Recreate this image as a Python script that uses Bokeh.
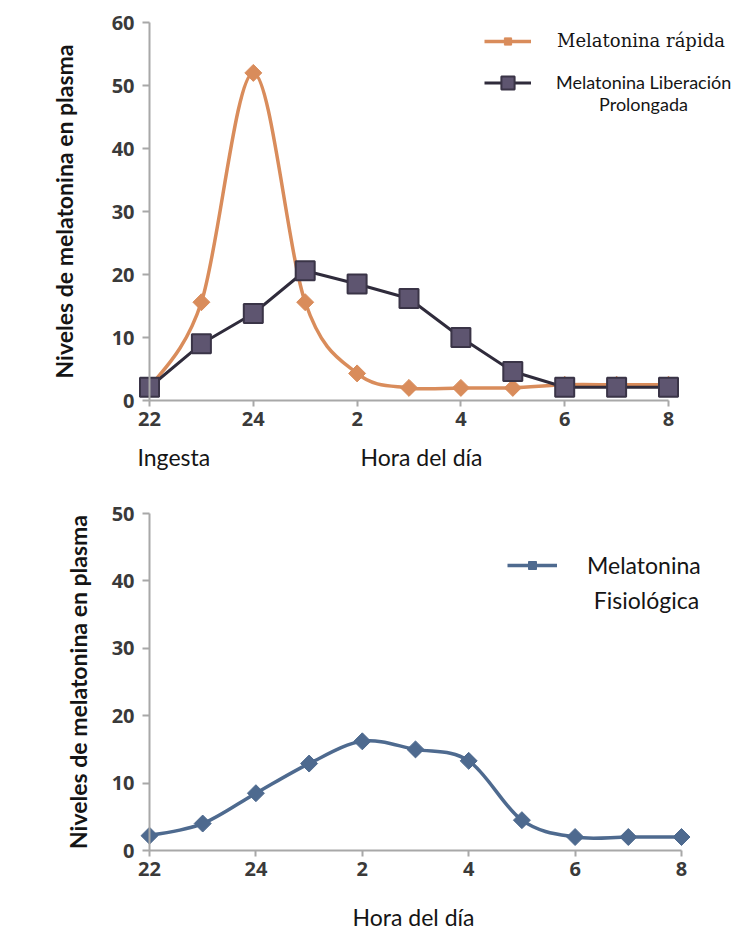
from bokeh.plotting import figure
from bokeh.layouts import column
from bokeh.models import (Range1d, FixedTicker, Legend, LegendItem, Label,
                          LinearAxis, ColumnDataSource)
from bokeh.embed import file_html
from bokeh.resources import INLINE
import math

# ---------------- data ----------------
hours = ["22", "23", "24", "1", "2", "3", "4", "5", "6", "7", "8"]
tick_hours = ["22", "24", "2", "4", "6", "8"]
rapida = [2.0, 15.6, 52.0, 15.6, 4.3, 2.0, 2.0, 2.0, 2.5, 2.5, 2.5]
prolongada = [2.1, 9.0, 13.8, 20.6, 18.5, 16.2, 10.0, 4.6, 2.1, 2.1, 2.1]
fisiologica = [2.2, 4.0, 8.5, 12.9, 16.2, 15.0, 13.3, 4.5, 2.0, 2.0, 2.0]
y_ticks_top = [0, 10, 20, 30, 40, 50, 60]
y_ticks_bottom = [0, 10, 20, 30, 40, 50]

ORANGE = "#D98C5B"
PURPLE_FILL = "#5E5570"
PURPLE_LINE = "#2F2B3B"
BLUE = "#4E6A8F"
AXIS = "#A8A8A8"
TICK_TXT = "#3A3A3A"
TXT = "#151515"

W = 748
xs = list(range(len(hours)))
tick_pos = [hours.index(h) for h in tick_hours]


def smooth_segments(x, y):
    """Excel-like smoothed line: cubic Bezier segments (Catmull-Rom control points)."""
    n = len(x)
    d = dict(x0=[], y0=[], x1=[], y1=[], cx0=[], cy0=[], cx1=[], cy1=[])
    for i in range(n - 1):
        pm = i - 1 if i > 0 else i
        pp = i + 2 if i + 2 < n else i + 1
        d["x0"].append(x[i]); d["y0"].append(y[i])
        d["x1"].append(x[i + 1]); d["y1"].append(y[i + 1])
        d["cx0"].append(x[i] + (x[i + 1] - x[pm]) / 6.0)
        d["cy0"].append(y[i] + (y[i + 1] - y[pm]) / 6.0)
        d["cx1"].append(x[i + 1] - (x[pp] - x[i]) / 6.0)
        d["cy1"].append(y[i + 1] - (y[pp] - y[i]) / 6.0)
    return ColumnDataSource(d)


def base_fig(h, origin_x, unit_x, origin_y, unit_y):
    # the plotting frame covers the whole figure; axes are drawn at data 0
    xr = Range1d(-origin_x / unit_x, (W - origin_x) / unit_x)
    yr = Range1d(-(h - origin_y) / unit_y, origin_y / unit_y)
    p = figure(width=W, height=h, x_range=xr, y_range=yr,
               x_axis_type=None, y_axis_type=None,
               output_backend="svg", toolbar_location=None,
               min_border=0, min_border_left=0, min_border_right=0,
               min_border_top=0, min_border_bottom=0,
               background_fill_color="white", border_fill_color="white")
    p.outline_line_color = None
    return p


def style_axes(p, y_ticks, title_standoff):
    xa = LinearAxis(ticker=FixedTicker(ticks=tick_pos),
                    major_label_overrides={pos: lab for pos, lab in zip(tick_pos, tick_hours)},
                    bounds=(0, len(hours) - 1), fixed_location=0)
    ya = LinearAxis(ticker=FixedTicker(ticks=y_ticks), bounds=(0, y_ticks[-1]),
                    fixed_location=0,
                    axis_label="Niveles de melatonina en plasma")
    for ax in (xa, ya):
        ax.axis_line_color = AXIS
        ax.axis_line_width = 2
        ax.major_tick_line_color = AXIS
        ax.major_tick_line_width = 2
        ax.major_tick_in = 0
        ax.minor_tick_line_color = None
        ax.major_label_text_font = "Open Sans"
        ax.major_label_text_font_style = "bold"
        ax.major_label_text_font_size = "20px"
        ax.major_label_text_color = TICK_TXT
    xa.major_tick_out = 6
    xa.major_label_standoff = 5
    ya.major_tick_out = 7
    ya.major_label_standoff = 8
    ya.axis_label_text_font = "Lato"
    ya.axis_label_text_font_style = "bold"
    ya.axis_label_text_font_size = "23px"
    ya.axis_label_text_color = TXT
    ya.axis_label_standoff = title_standoff
    p.add_layout(xa, "below")
    p.add_layout(ya, "left")


def text_label(p, x, y, txt, size="23px", align="left", font="Lato", x_units="screen", x_offset=0):
    p.add_layout(Label(x=x, y=y, x_units=x_units, y_units="screen", x_offset=x_offset,
                       text=txt, text_font=font, text_font_size=size, text_color=TXT,
                       text_align=align, text_baseline="middle"))


def legend(item, loc, gw, gh, standoff, font, size):
    return Legend(items=[item], location=loc, glyph_width=gw, glyph_height=gh,
                  label_standoff=standoff, padding=0, margin=0, spacing=0,
                  label_text_font=font, label_text_font_size=size,
                  label_text_color=TXT, label_height=10,
                  border_line_alpha=0, background_fill_alpha=0)


# ---------------- top chart ----------------
H1 = 470
p1 = base_fig(H1, 149, 51.9, 400, 6.3)
style_axes(p1, y_ticks_top, 31)

r_line = p1.bezier(x0="x0", y0="y0", x1="x1", y1="y1", cx0="cx0", cy0="cy0",
                   cx1="cx1", cy1="cy1", source=smooth_segments(xs, rapida),
                   line_color=ORANGE, line_width=3.5)
r_pts = p1.scatter(xs, rapida, marker="square", angle=math.pi / 4, size=12,
                   fill_color=ORANGE, line_color=ORANGE, line_width=1)
pr_line = p1.line(xs, prolongada, line_color=PURPLE_LINE, line_width=3)
pr_pts = p1.scatter(xs, prolongada, marker="square", size=19,
                    fill_color=PURPLE_FILL, line_color="#3A3447", line_width=2)

p1.add_layout(legend(LegendItem(label="Melatonina rápida", renderers=[r_line, r_pts]),
                     (484, H1 - 51), 47, 18, 26, "DejaVu Serif", "18px"), "center")
p1.add_layout(legend(LegendItem(label="Melatonina Liberación", renderers=[pr_line, pr_pts]),
                     (484, H1 - 98.5), 47, 33, 25, "Lato", "18px"), "center")
text_label(p1, 643, H1 - 103, "Prolongada", size="18px", align="center")
text_label(p1, 0, H1 - 456, "Ingesta", x_units="data", x_offset=-12)
text_label(p1, 421, H1 - 456, "Hora del día", align="center")

# ---------------- bottom chart ----------------
H2 = 468
TOP2 = 470
p2 = base_fig(H2, 149, 53.2, 850 - TOP2, 6.74)
style_axes(p2, y_ticks_bottom, 17)

f_line = p2.bezier(x0="x0", y0="y0", x1="x1", y1="y1", cx0="cx0", cy0="cy0",
                   cx1="cx1", cy1="cy1", source=smooth_segments(xs, fisiologica),
                   line_color=BLUE, line_width=3.5)
f_pts = p2.scatter(xs, fisiologica, marker="square", angle=math.pi / 4, size=12,
                   fill_color=BLUE, line_color=BLUE, line_width=1)
p2.add_layout(legend(LegendItem(label="Melatonina", renderers=[f_line, f_pts]),
                     (507, H2 - (579 - TOP2)), 50, 20, 30, "Lato", "23px"), "center")
text_label(p2, 646, H2 - (599 - TOP2), "Fisiológica", size="23px", align="center")
text_label(p2, 413, H2 - (916 - TOP2), "Hora del día", align="center")

layout = column(p1, p2)
open("out.html", "w").write(file_html(layout, INLINE))
